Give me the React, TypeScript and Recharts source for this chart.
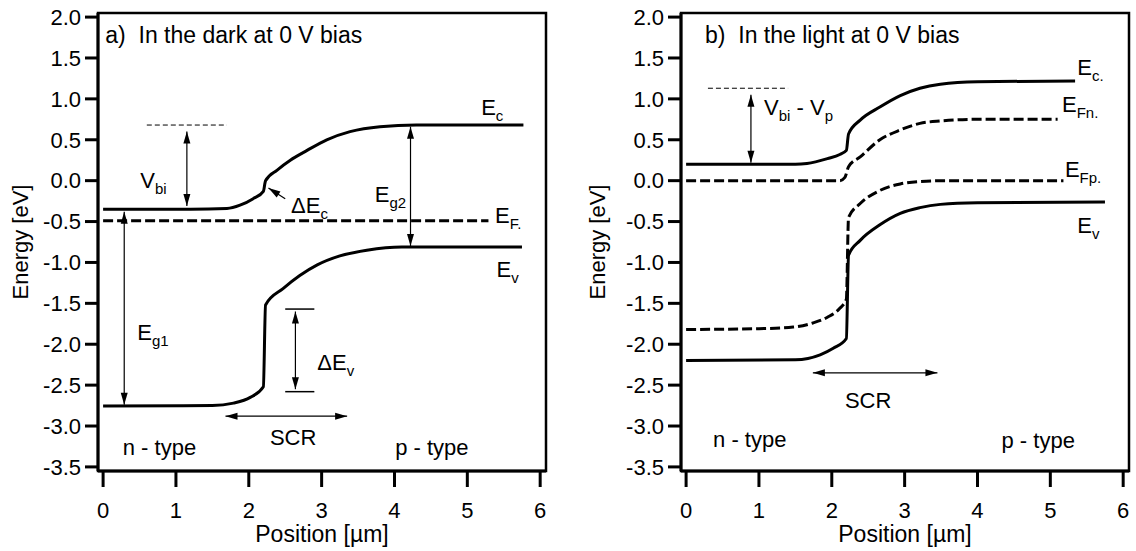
import React from "react";
import {
    Line,
    LineChart,
    ReferenceArea,
    ReferenceDot,
    ReferenceLine,
    XAxis,
    YAxis,
} from "recharts";

const FONT = '"Liberation Sans", Arial, Helvetica, sans-serif';

type Pt = { x: number; y: number };
type Part = { t: string; sub?: boolean };
type Note = { x: number; y: number; parts: Part[]; size?: number };
type Arrow = { x1: number; y1: number; x2: number; y2: number; both: boolean };
type Guide = { x1: number; y1: number; x2: number; y2: number; dashed: boolean };

const xTicks = [0, 1, 2, 3, 4, 5, 6];
const yTicks = [-3.5, -3, -2.5, -2, -1.5, -1, -0.5, 0, 0.5, 1, 1.5, 2];
const xDomain: [number, number] = [-0.07, 6.08];
const yDomain: [number, number] = [-3.55, 2.05];

// a) dark, 0 V
const darkEc: Pt[] = [
    { x: 0, y: -0.35 }, { x: 1.2, y: -0.35 }, { x: 1.7, y: -0.34 }, { x: 1.88, y: -0.3 },
    { x: 2.06, y: -0.22 }, { x: 2.2, y: -0.13 }, { x: 2.23, y: 0.0 }, { x: 2.39, y: 0.13 },
    { x: 2.57, y: 0.25 }, { x: 2.8, y: 0.37 }, { x: 3.07, y: 0.5 }, { x: 3.39, y: 0.6 },
    { x: 3.8, y: 0.66 }, { x: 4.3, y: 0.68 }, { x: 5.77, y: 0.68 },
];
const darkEf: Pt[] = [
    { x: 0, y: -0.49 }, { x: 5.29, y: -0.49 },
];
const darkEv: Pt[] = [
    { x: 0, y: -2.755 }, { x: 1.5, y: -2.75 }, { x: 1.79, y: -2.72 }, { x: 2.02, y: -2.65 },
    { x: 2.2, y: -2.52 }, { x: 2.23, y: -1.52 }, { x: 2.47, y: -1.32 }, { x: 2.7, y: -1.16 },
    { x: 2.94, y: -1.03 }, { x: 3.25, y: -0.92 }, { x: 3.62, y: -0.85 }, { x: 4.1, y: -0.81 },
    { x: 5.75, y: -0.81 },
];

// b) light, 0 V
const lightEc: Pt[] = [
    { x: 0, y: 0.2 }, { x: 1.5, y: 0.2 }, { x: 1.66, y: 0.21 }, { x: 1.94, y: 0.27 },
    { x: 2.11, y: 0.32 }, { x: 2.2, y: 0.37 }, { x: 2.23, y: 0.57 }, { x: 2.39, y: 0.74 },
    { x: 2.66, y: 0.9 }, { x: 2.94, y: 1.04 }, { x: 3.21, y: 1.13 }, { x: 3.49, y: 1.18 },
    { x: 4.0, y: 1.21 }, { x: 5.34, y: 1.22 },
];
const lightEfn: Pt[] = [
    { x: 0, y: 0.0 }, { x: 2.11, y: 0.0 }, { x: 2.18, y: 0.04 }, { x: 2.23, y: 0.17 },
    { x: 2.39, y: 0.29 }, { x: 2.66, y: 0.5 }, { x: 2.94, y: 0.62 }, { x: 3.21, y: 0.7 },
    { x: 3.49, y: 0.73 }, { x: 4.0, y: 0.75 }, { x: 5.1, y: 0.75 },
];
const lightEfp: Pt[] = [
    { x: 0, y: -1.82 }, { x: 1.0, y: -1.81 }, { x: 1.47, y: -1.79 }, { x: 1.74, y: -1.74 },
    { x: 1.94, y: -1.67 }, { x: 2.11, y: -1.56 }, { x: 2.2, y: -1.45 }, { x: 2.23, y: -0.45 },
    { x: 2.39, y: -0.28 }, { x: 2.66, y: -0.12 }, { x: 2.94, y: -0.04 }, { x: 3.21, y: -0.01 },
    { x: 3.6, y: 0.0 }, { x: 5.18, y: 0.0 },
];
const lightEv: Pt[] = [
    { x: 0, y: -2.2 }, { x: 1.5, y: -2.19 }, { x: 1.84, y: -2.13 }, { x: 2.02, y: -2.05 },
    { x: 2.2, y: -1.93 }, { x: 2.23, y: -0.91 }, { x: 2.39, y: -0.73 }, { x: 2.66, y: -0.54 },
    { x: 2.94, y: -0.4 }, { x: 3.21, y: -0.33 }, { x: 3.49, y: -0.29 }, { x: 4.0, y: -0.27 },
    { x: 5.75, y: -0.26 },
];

const darkNotes: Note[] = [
    { x: 0.03, y: 1.68, size: 23, parts: [{ t: "a)\u00a0\u00a0In the dark at 0 V bias" }] },
    { x: 0.51, y: -0.09, parts: [{ t: "V" }, { t: "bi", sub: true }] },
    { x: 2.58, y: -0.4, parts: [{ t: "\u0394E" }, { t: "c", sub: true }] },
    { x: 5.19, y: 0.8, parts: [{ t: "E" }, { t: "c", sub: true }] },
    { x: 3.73, y: -0.26, parts: [{ t: "E" }, { t: "g2", sub: true }] },
    { x: 5.38, y: -0.52, parts: [{ t: "E" }, { t: "F.", sub: true }] },
    { x: 5.4, y: -1.18, parts: [{ t: "E" }, { t: "v", sub: true }] },
    { x: 0.47, y: -1.95, parts: [{ t: "E" }, { t: "g1", sub: true }] },
    { x: 2.94, y: -2.32, parts: [{ t: "\u0394E" }, { t: "v", sub: true }] },
    { x: 2.29, y: -3.23, parts: [{ t: "SCR" }] },
    { x: 0.27, y: -3.35, parts: [{ t: "n - type" }] },
    { x: 4.01, y: -3.35, parts: [{ t: "p - type" }] },
];
const darkArrows: Arrow[] = [
    { x1: 1.15, y1: 0.6, x2: 1.15, y2: -0.31, both: true },
    { x1: 0.29, y1: -0.38, x2: 0.29, y2: -2.74, both: true },
    { x1: 4.22, y1: 0.66, x2: 4.22, y2: -0.8, both: true },
    { x1: 2.5, y1: -0.22, x2: 2.27, y2: -0.09, both: false },
    { x1: 2.64, y1: -1.6, x2: 2.64, y2: -2.55, both: true },
    { x1: 1.68, y1: -2.88, x2: 3.35, y2: -2.88, both: true },
];
const darkGuides: Guide[] = [
    { x1: 0.6, y1: 0.68, x2: 1.7, y2: 0.68, dashed: true },
    { x1: 2.5, y1: -1.57, x2: 2.9, y2: -1.57, dashed: false },
    { x1: 2.5, y1: -2.58, x2: 2.9, y2: -2.58, dashed: false },
];

const lightNotes: Note[] = [
    { x: 0.26, y: 1.68, size: 23, parts: [{ t: "b)\u00a0\u00a0In the light at 0 V bias" }] },
    {
        x: 1.07,
        y: 0.8,
        parts: [{ t: "V" }, { t: "bi", sub: true }, { t: " - V" }, { t: "p", sub: true }],
    },
    { x: 5.37, y: 1.29, parts: [{ t: "E" }, { t: "c.", sub: true }] },
    { x: 5.16, y: 0.84, parts: [{ t: "E" }, { t: "Fn.", sub: true }] },
    { x: 5.2, y: 0.05, parts: [{ t: "E" }, { t: "Fp.", sub: true }] },
    { x: 5.37, y: -0.64, parts: [{ t: "E" }, { t: "v", sub: true }] },
    { x: 2.18, y: -2.78, parts: [{ t: "SCR" }] },
    { x: 0.37, y: -3.26, parts: [{ t: "n - type" }] },
    { x: 4.33, y: -3.27, parts: [{ t: "p - type" }] },
];
const lightArrows: Arrow[] = [
    { x1: 0.89, y1: 1.05, x2: 0.89, y2: 0.22, both: true },
    { x1: 1.74, y1: -2.35, x2: 3.45, y2: -2.35, both: true },
];
const lightGuides: Guide[] = [
    { x1: 0.3, y1: 1.13, x2: 1.4, y2: 1.13, dashed: true },
];

function arrowShape(both: boolean) {
    return (p: any) => {
        const { x1, y1, x2, y2 } = p;
        const len = 12;
        const half = 3.5;
        const d = Math.hypot(x2 - x1, y2 - y1) || 1;
        const ux = (x2 - x1) / d;
        const uy = (y2 - y1) / d;
        const head = (tx: number, ty: number, sx: number, sy: number) => {
            const bx = tx - sx * len;
            const by = ty - sy * len;
            return `${tx},${ty} ${bx - sy * half},${by + sx * half} ${bx + sy * half},${by - sx * half}`;
        };
        return (
            <g>
                <line x1={x1} y1={y1} x2={x2} y2={y2} stroke="#000" strokeWidth={1.2} />
                {both && <polygon points={head(x1, y1, -ux, -uy)} fill="#000" />}
                <polygon points={head(x2, y2, ux, uy)} fill="#000" />
            </g>
        );
    };
}

function textShape(parts: Part[], size = 22) {
    return (p: any) => {
        let prevSub = false;
        return (
            <text
                x={p.cx}
                y={p.cy}
                fontFamily={FONT}
                fontSize={size}
                fill="#000"
                style={{ whiteSpace: "pre" }}
            >
                {parts.map((q, i) => {
                    const sub = !!q.sub;
                    const dy = sub && !prevSub ? 6 : !sub && prevSub ? -6 : 0;
                    prevSub = sub;
                    return (
                        <tspan key={i} dy={dy} fontSize={sub ? 15 : size}>
                            {q.t}
                        </tspan>
                    );
                })}
            </text>
        );
    };
}

type PanelProps = {
    width: number;
    left: number;
    right: number;
    labelDx: number;
    solid: Pt[][];
    dashed: Pt[][];
    notes: Note[];
    arrows: Arrow[];
    guides: Guide[];
};

function Panel({ width, left, right, labelDx, solid, dashed, notes, arrows, guides }: PanelProps) {
    const tickStyle = { fill: "#000", fontSize: 22, fontFamily: FONT };
    return (
        <LineChart width={width} height={551} margin={{ top: 13, right, bottom: 10, left }}>
            <XAxis
                type="number"
                dataKey="x"
                domain={xDomain}
                ticks={xTicks}
                allowDataOverflow
                height={70}
                tickSize={16}
                tickMargin={15}
                axisLine={{ stroke: "#000", strokeWidth: 3 }}
                tickLine={{ stroke: "#000", strokeWidth: 3 }}
                tick={tickStyle}
                label={{
                    value: "Position [\u00b5m]",
                    position: "insideBottom",
                    offset: -1,
                    fill: "#000",
                    fontSize: 23,
                    fontFamily: FONT,
                }}
            />
            <YAxis
                type="number"
                dataKey="y"
                domain={yDomain}
                ticks={yTicks}
                allowDataOverflow
                width={90}
                tickSize={13}
                tickMargin={4}
                tickFormatter={(v: number) => v.toFixed(1)}
                axisLine={{ stroke: "#000", strokeWidth: 3 }}
                tickLine={{ stroke: "#000", strokeWidth: 3 }}
                tick={tickStyle}
                label={{
                    value: "Energy [eV]",
                    angle: -90,
                    position: "center",
                    dx: labelDx,
                    fill: "#000",
                    fontSize: 22,
                    fontFamily: FONT,
                }}
            />
            <ReferenceArea
                x1={xDomain[0]}
                x2={xDomain[1]}
                y1={yDomain[0]}
                y2={yDomain[1]}
                fill="none"
                stroke="#000"
                strokeWidth={2.5}
                ifOverflow="visible"
            />
            {solid.map((d, i) => (
                <Line
                    key={`s${i}`}
                    data={d}
                    dataKey="y"
                    type="monotone"
                    stroke="#000"
                    strokeWidth={3}
                    dot={false}
                    activeDot={false}
                    isAnimationActive={false}
                />
            ))}
            {dashed.map((d, i) => (
                <Line
                    key={`d${i}`}
                    data={d}
                    dataKey="y"
                    type="monotone"
                    stroke="#000"
                    strokeWidth={3}
                    strokeDasharray="10 4"
                    dot={false}
                    activeDot={false}
                    isAnimationActive={false}
                />
            ))}
            {guides.map((g, i) => (
                <ReferenceLine
                    key={`g${i}`}
                    segment={[
                        { x: g.x1, y: g.y1 },
                        { x: g.x2, y: g.y2 },
                    ]}
                    stroke="#000"
                    strokeWidth={g.dashed ? 1 : 1.5}
                    strokeDasharray={g.dashed ? "5 3" : undefined}
                />
            ))}
            {arrows.map((a, i) => (
                <ReferenceLine
                    key={`a${i}`}
                    segment={[
                        { x: a.x1, y: a.y1 },
                        { x: a.x2, y: a.y2 },
                    ]}
                    shape={arrowShape(a.both)}
                />
            ))}
            {notes.map((n, i) => (
                <ReferenceDot
                    key={`n${i}`}
                    x={n.x}
                    y={n.y}
                    r={0}
                    shape={textShape(n.parts, n.size)}
                />
            ))}
        </LineChart>
    );
}

export default function App() {
    return (
        <div style={{ position: "absolute", left: 0, top: 0, width: 1136, height: 551, background: "#fff" }}>
            <div style={{ position: "absolute", left: 0, top: 0 }}>
                <Panel
                    width={560}
                    left={8}
                    right={14}
                    labelDx={-33}
                    solid={[darkEc, darkEv]}
                    dashed={[darkEf]}
                    notes={darkNotes}
                    arrows={darkArrows}
                    guides={darkGuides}
                />
            </div>
            <div style={{ position: "absolute", left: 560, top: 0 }}>
                <Panel
                    width={576}
                    left={31}
                    right={7}
                    labelDx={-39}
                    solid={[lightEc, lightEv]}
                    dashed={[lightEfn, lightEfp]}
                    notes={lightNotes}
                    arrows={lightArrows}
                    guides={lightGuides}
                />
            </div>
        </div>
    );
}
